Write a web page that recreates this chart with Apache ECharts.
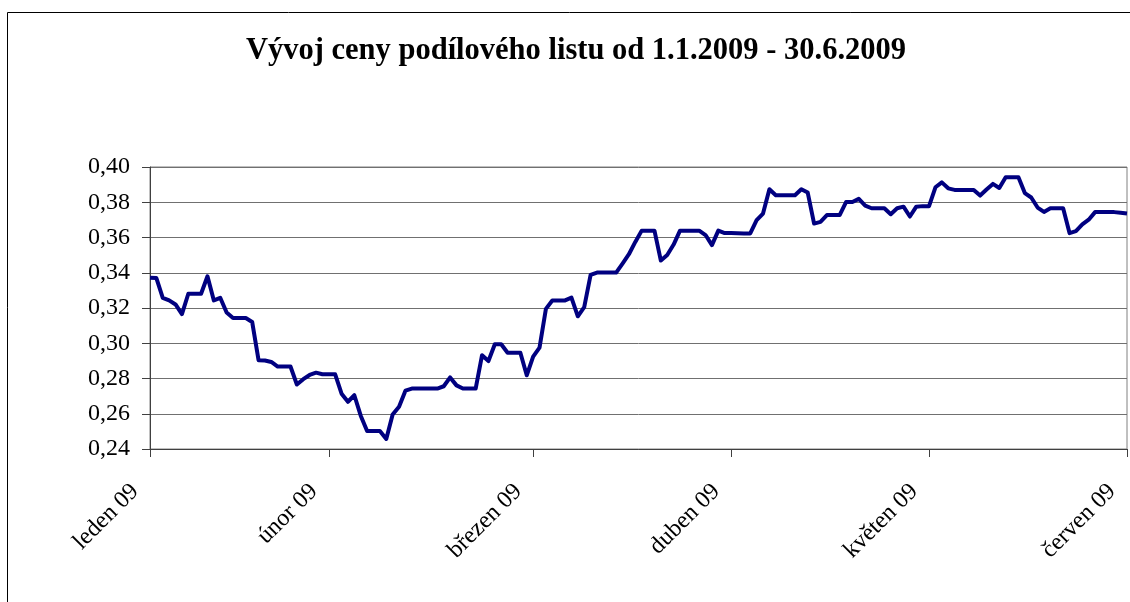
<!DOCTYPE html>
<html>
<head>
    <meta charset="utf-8">
    <title>Vývoj ceny podílového listu</title>
    <script src="https://cdn.jsdelivr.net/npm/echarts@6/dist/echarts.min.js"></script>
    <style>
        html, body { margin: 0; padding: 0; background: #fff; }
        #graf { width: 1130px; height: 602px; }
    </style>
</head>
<body>
<div id="graf"></div>
<script type="text/javascript">

    // cena podilového listu, obchodni dny 1.1.2009 - 30.6.2009
    var price = [
        0.3372, 0.3370, 0.3258, 0.3243, 0.3220, 0.3165, 0.3281, 0.3281, 0.3281, 0.3380,
        0.3243, 0.3258, 0.3174, 0.3143, 0.3143, 0.3143, 0.3121, 0.2904, 0.2902, 0.2894,
        0.2868, 0.2868, 0.2868, 0.2766, 0.2796, 0.2820, 0.2833, 0.2824, 0.2824, 0.2824,
        0.2714, 0.2668, 0.2705, 0.2589, 0.2502, 0.2502, 0.2502, 0.2457, 0.2596, 0.2640,
        0.2731, 0.2743, 0.2743, 0.2743, 0.2743, 0.2743, 0.2756, 0.2806, 0.2761, 0.2743,
        0.2743, 0.2743, 0.2932, 0.2899, 0.2994, 0.2994, 0.2946, 0.2946, 0.2946, 0.2818,
        0.2924, 0.2975, 0.3195, 0.3243, 0.3243, 0.3243, 0.3259, 0.3153, 0.3205, 0.3388,
        0.3401, 0.3401, 0.3401, 0.3401, 0.3452, 0.3505, 0.3575, 0.3639, 0.3639, 0.3639,
        0.3469, 0.3501, 0.3560, 0.3639, 0.3639, 0.3639, 0.3639, 0.3614, 0.3557, 0.3639,
        0.3625, 0.3625, 0.3624, 0.3623, 0.3623, 0.3698, 0.3736, 0.3874, 0.3840, 0.3840,
        0.3840, 0.3840, 0.3874, 0.3855, 0.3679, 0.3689, 0.3727, 0.3727, 0.3727, 0.3801,
        0.3801, 0.3819, 0.3781, 0.3766, 0.3766, 0.3766, 0.3732, 0.3766, 0.3775, 0.3719,
        0.3775, 0.3778, 0.3778, 0.3885, 0.3913, 0.3879, 0.3870, 0.3870, 0.3870, 0.3870,
        0.3838, 0.3872, 0.3904, 0.3881, 0.3942, 0.3942, 0.3942, 0.3852, 0.3827, 0.3770,
        0.3745, 0.3766, 0.3766, 0.3766, 0.3625, 0.3636, 0.3674, 0.3701, 0.3744, 0.3744,
        0.3744, 0.3744, 0.3740, 0.3736
    ];

    // popisky mesicu a index dne, kde stoji
    var monthTickIndex = [0, 28, 60, 91, 122, 153];
    var monthLabels = ['leden 09', 'únor 09', 'březen 09', 'duben 09', 'květen 09', 'červen 09'];

    var yMin = 0.24, yMax = 0.40, yStep = 0.02;

    var dayIndex = price.map(function (v, i) { return String(i); });

    var serif = "'Liberation Serif', 'Times New Roman', serif";

    var myChart = echarts.init(document.getElementById('graf'));

    function isMonthTick(idx) {
        return monthTickIndex.indexOf(idx) >= 0;
    }

    var option = {
        animation: false,
        backgroundColor: '#ffffff',
        grid: {
            left: 150,
            right: 3,
            top: 167,
            bottom: 153,
            show: true,
            borderColor: '#808080',
            borderWidth: 1
        },
        graphic: [
            {
                type: 'polyline',
                shape: { points: [[7.5, 610], [7.5, 12.5], [1140, 12.5]] },
                style: { stroke: '#000', lineWidth: 1, fill: null },
                silent: true
            },
            {
                type: 'text',
                x: 576,
                y: 51,
                style: {
                    text: 'Vývoj ceny podílového listu od 1.1.2009 - 30.6.2009',
                    font: 'bold 30.5px ' + serif,
                    fill: '#000',
                    align: 'center',
                    verticalAlign: 'middle'
                }
            }
        ],
        xAxis: {
            type: 'category',
            data: dayIndex,
            boundaryGap: false,
            axisLine: { lineStyle: { color: '#404040', width: 1 } },
            axisTick: {
                inside: false,
                length: 8,
                interval: function (idx) { return isMonthTick(idx); },
                lineStyle: { color: '#404040' }
            },
            axisLabel: {
                interval: function (idx) { return isMonthTick(idx); },
                rotate: 45,
                margin: 24,
                color: '#000',
                formatter: function (val, idx) {
                    var k = monthTickIndex.indexOf(idx);
                    return k >= 0 ? '{m|' + monthLabels[k] + '}' : '';
                },
                rich: {
                    m: {
                        fontFamily: serif,
                        fontSize: 24,
                        color: '#000',
                        padding: [0, 21, 0, 0]
                    }
                }
            },
            splitLine: { show: false }
        },
        yAxis: {
            type: 'value',
            min: yMin,
            max: yMax,
            interval: yStep,
            axisLine: { show: true, lineStyle: { color: '#404040', width: 1 } },
            axisTick: { show: true, length: 8, lineStyle: { color: '#404040' } },
            axisLabel: {
                margin: 20,
                fontFamily: serif,
                fontSize: 24,
                color: '#000',
                formatter: function (v) { return v.toFixed(2).replace('.', ','); }
            },
            splitLine: { lineStyle: { color: '#707070', width: 1 } }
        },
        series: [
            {
                name: 'cena',
                type: 'line',
                data: price,
                showSymbol: false,
                lineStyle: { color: '#000080', width: 4, join: 'round' },
                itemStyle: { color: '#000080' }
            }
        ]
    };

    myChart.setOption(option);
</script>
</body>
</html>
